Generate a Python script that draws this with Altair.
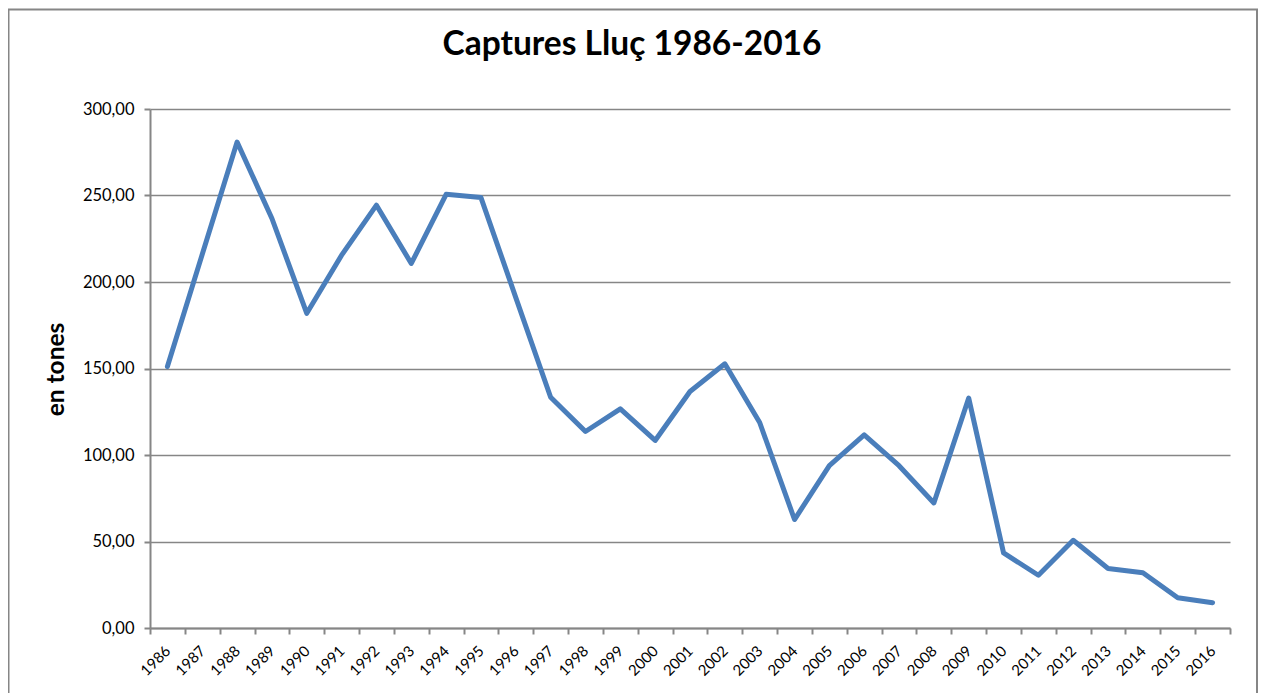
import altair as alt
import pandas as pd

years = [str(y) for y in range(1986, 2017)]
catches = [151.1, 216.0, 280.9, 236.7, 181.9, 215.5, 244.4, 210.7, 250.7, 248.8,
           191.0, 133.4, 113.6, 126.7, 108.4, 136.7, 152.7, 118.8, 62.7, 93.8,
           111.7, 93.8, 72.3, 132.9, 43.4, 30.5, 50.7, 34.4, 31.9, 17.5, 14.6]
y_ticks = [0, 50, 100, 150, 200, 250, 300]

df = pd.DataFrame({"year": years, "tones": catches})

FONT = "Lato"
GRAY = "#868686"

line = alt.Chart(df).mark_line(color="#4a7ebb", strokeWidth=5, strokeJoin="round", strokeCap="round").encode(
    x=alt.X("year:O", scale=alt.Scale(type="band", paddingInner=0, paddingOuter=0),
            axis=alt.Axis(title=None, labelAngle=-45, labelAlign="right", labelBaseline="middle",
                          labelPadding=14, tickBand="extent", tickSize=6, tickColor=GRAY, tickWidth=2,
                          domainColor=GRAY, domainWidth=2, labelFont=FONT, labelFontSize=15,
                          labelColor="#000000", grid=False)),
    y=alt.Y("tones:Q", scale=alt.Scale(domain=[0, 300], nice=False),
            axis=alt.Axis(title="en tones", values=y_ticks,
                          labelExpr="replace(format(datum.value, '.2f'), '.', ',')",
                          labelFont=FONT, labelFontSize=16.5, labelColor="#000000", labelPadding=10,
                          tickSize=6, tickColor=GRAY, tickWidth=2, domainColor=GRAY, domainWidth=2,
                          grid=True, gridColor=GRAY, gridWidth=1.6,
                          titleFont=FONT, titleFontSize=24.5, titleFontWeight="bold", titleColor="#000000",
                          titleX=-94, titleY=260, titleAlign="center", titleBaseline="middle", titleAngle=-90)),
)

border = alt.Chart(alt.Data(values=[{"a": 1}])).mark_rect(filled=False, stroke=GRAY, strokeWidth=2).encode(
    x=alt.value(-141.5), x2=alt.value(1107), y=alt.value(-99.5), y2=alt.value(640)
)

chart = alt.layer(border, line).properties(
    width=1080, height=519,
    padding={"left": 142, "top": 101, "right": 28, "bottom": 70},
    autosize=alt.AutoSizeParams(type="none"),
    title=alt.TitleParams("Captures Lluç 1986-2016", font=FONT, fontSize=33.5, fontWeight="bold",
                          color="#000000", anchor="middle", baseline="alphabetic", dx=-58, offset=-79.5),
).configure_view(stroke=None)

chart.save("out.html", embed_options={"renderer": "svg", "actions": False})
